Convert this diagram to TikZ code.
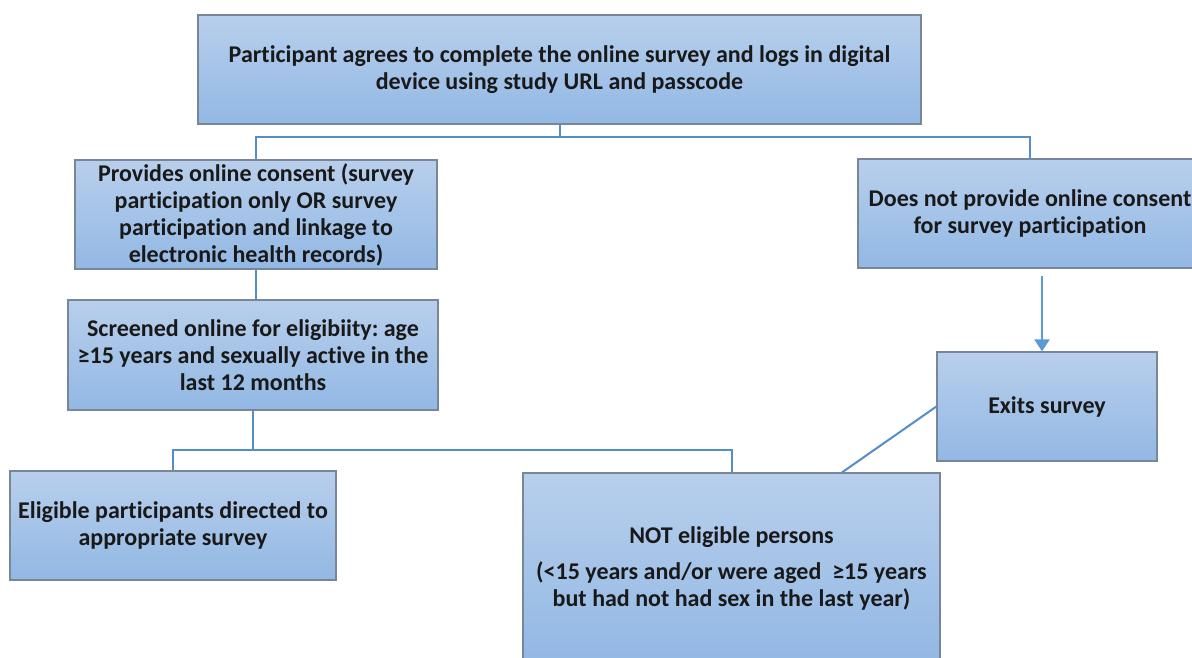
\documentclass[tikz,border=0pt]{standalone}
\usepackage{fontspec}
\setmainfont[RawFeature=-liga]{Carlito}
\usetikzlibrary{arrows.meta,calc}
\definecolor{boxtop}{RGB}{184,207,236}
\definecolor{boxbot}{RGB}{146,184,228}
\definecolor{boxline}{RGB}{120,134,152}
\definecolor{linkc}{RGB}{84,141,199}
\definecolor{flowc}{RGB}{91,155,213}
\frenchspacing

\begin{document}
\begin{tikzpicture}[x=1pt,y=-1pt,
   stage/.style={draw=boxline,line width=1.2pt,top color=boxtop,bottom color=boxbot,
      align=center,inner sep=0pt,text=black!90,
      font=\fontsize{24}{27}\selectfont\bfseries},
   bx/.style 2 args={minimum width=#1pt,minimum height=#2pt},
   link/.style={draw=linkc,line width=2pt},
   flow/.style={draw=flowc,line width=2.2pt,-{Triangle[width=15pt,length=12pt]}}]
   \path[use as bounding box,clip] (0,0) rectangle (1192,657);
   \fill[white] (0,0) rectangle (1192,657);
   \node[stage,bx={723}{109}] (start)     at ( 559.5,  69.5) {Participant agrees to complete the online survey and logs in digital\\device using study URL and passcode};
   \node[stage,bx={362}{109}] (consent)   at ( 256.0, 214.5) {Provides online consent (survey\\participation only OR survey\\participation and linkage to\\electronic health records)};
   \node[stage,bx={344}{109}] (noconsent) at (1030.0, 213.5) {Does not provide online consent\\for survey participation};
   \node[stage,bx={370}{110}] (screen)    at ( 253.0, 355.0) {Screened online for eligibiity: age\\≥15 years and sexually active in the\\last 12 months};
   \node[stage,bx={220}{109}] (exits)     at (1047.0, 406.5) {Exits survey};
   \node[stage,bx={326}{109}] (eligible)  at ( 173.0, 525.5) {Eligible participants directed to\\appropriate survey};
   \node[stage,bx={417}{190}] (noteli)    at ( 731.5, 568.0) {NOT eligible persons\\[9pt](<15 years and/or were aged \ ≥15 years\\but had not had sex in the last year)};
   \coordinate (split1) at (559.5,137);
   \coordinate (split2) at (253.0,450);
   \draw[link] (start.south) -- (split1) -| (consent.north);
   \draw[link] (split1) -| (noconsent.north);
   \draw[link] (consent.south) -- (consent.south |- screen.north);
   \draw[link] (screen.south) -- (split2) -| (eligible.north);
   \draw[link] (split2) -| (noteli.north);
   \draw[flow] ([xshift=12pt,yshift=-7pt]noconsent.south) -- ([xshift=-5pt]exits.north);
   \draw[link] (exits.west) -- ([xshift=110.5pt]noteli.north);
\end{tikzpicture}
\end{document}
